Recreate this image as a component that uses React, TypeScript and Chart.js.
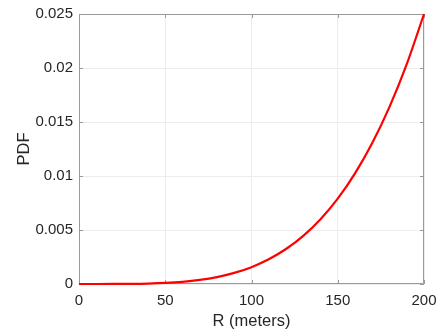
import React, { useEffect, useRef } from "react";
import { Chart, registerables } from "chart.js";

Chart.register(...registerables);

const rValues = [0, 10, 20, 30, 40, 50, 60, 70, 80, 90, 100, 110, 120, 130, 140, 150, 160, 170, 180, 190, 200];
const pdfValues = [0, 0.0000002, 0.0000025, 0.0000127, 0.00004, 0.000098, 0.0002, 0.000375, 0.00064, 0.00103, 0.00156, 0.00229, 0.00324, 0.00446, 0.006, 0.0079, 0.01024, 0.01305, 0.0164, 0.02036, 0.025];
const xTicks = [0, 50, 100, 150, 200];
const yTicks = [0, 0.005, 0.01, 0.015, 0.02, 0.025];
const xTitle = "R (meters)";
const yTitle = "PDF";

const FONT = "'Liberation Sans', Arial, Helvetica, sans-serif";
const TEXT = "#262626";
const AXIS = "#9a9a9a";
const GRID = "#ececec";

const boxPlugin = {
  id: "matlabBox",
  beforeDatasetsDraw(chart: any) {
    const { ctx, chartArea } = chart;
    const { left, right, top, bottom } = chartArea;
    const xs = chart.scales.x;
    const ys = chart.scales.y;
    ctx.save();
    ctx.strokeStyle = AXIS;
    ctx.lineWidth = 1;
    ctx.beginPath();
    ctx.rect(left + 0.5, top + 0.5, right - left - 1, bottom - top - 1);
    ctx.stroke();
    const tl = 4;
    ctx.beginPath();
    xTicks.forEach((v) => {
      const px = Math.round(xs.getPixelForValue(v)) + 0.5;
      ctx.moveTo(px, bottom);
      ctx.lineTo(px, bottom - tl);
      ctx.moveTo(px, top);
      ctx.lineTo(px, top + tl);
    });
    yTicks.forEach((v) => {
      const py = Math.round(ys.getPixelForValue(v)) + 0.5;
      ctx.moveTo(left, py);
      ctx.lineTo(left + tl, py);
      ctx.moveTo(right, py);
      ctx.lineTo(right - tl, py);
    });
    ctx.stroke();
    ctx.restore();
  },
};

export default function App() {
  const ref = useRef<HTMLCanvasElement | null>(null);
  useEffect(() => {
    if (!ref.current) return;
    const chart = new Chart(ref.current, {
      type: "line",
      data: {
        datasets: [
          {
            data: rValues.map((r, i) => ({ x: r, y: pdfValues[i] })),
            borderColor: "#ff0000",
            borderWidth: 2.2,
            pointRadius: 0,
            cubicInterpolationMode: "monotone",
            fill: false,
            clip: 3,
          },
        ],
      },
      options: {
        animation: false,
        responsive: false,
        maintainAspectRatio: false,
        layout: { padding: { top: 14, right: 17, left: 0, bottom: 0 } },
        plugins: { legend: { display: false }, tooltip: { enabled: false } },
        scales: {
          x: {
            type: "linear",
            min: 0,
            max: 200,
            afterBuildTicks: (s: any) => {
              s.ticks = xTicks.map((v) => ({ value: v }));
            },
            afterFit: (s: any) => {
              s.height = 47;
              s.paddingLeft = 0;
              s.paddingRight = 0;
            },
            grid: { color: GRID, drawTicks: false, lineWidth: 1 },
            border: { display: false },
            ticks: {
              color: TEXT,
              font: { family: FONT, size: 15 },
              padding: 8,
              maxRotation: 0,
              callback: (v: any) => String(v),
            },
            title: {
              display: true,
              text: xTitle,
              color: TEXT,
              font: { family: FONT, size: 16.5 },
              padding: { top: 1, bottom: 0 },
            },
          },
          y: {
            type: "linear",
            min: 0,
            max: 0.025,
            afterBuildTicks: (s: any) => {
              s.ticks = yTicks.map((v) => ({ value: v }));
            },
            afterFit: (s: any) => {
              s.width = 79;
              s.paddingTop = 0;
              s.paddingBottom = 0;
            },
            grid: { color: GRID, drawTicks: false, lineWidth: 1 },
            border: { display: false },
            ticks: {
              color: TEXT,
              font: { family: FONT, size: 15 },
              padding: 6,
              callback: (v: any) => String(Number(Number(v).toFixed(4))),
            },
            title: {
              display: true,
              text: yTitle,
              color: TEXT,
              font: { family: FONT, size: 16.5 },
              padding: { top: 15, bottom: 0 },
            },
          },
        },
      },
      plugins: [boxPlugin],
    } as any);
    return () => chart.destroy();
  }, []);
  return (
    <div style={{ position: "fixed", left: 0, top: 0, width: 441, height: 331, background: "#fff" }}>
      <canvas ref={ref} width={441} height={331} style={{ width: 441, height: 331, display: "block" }} />
    </div>
  );
}
